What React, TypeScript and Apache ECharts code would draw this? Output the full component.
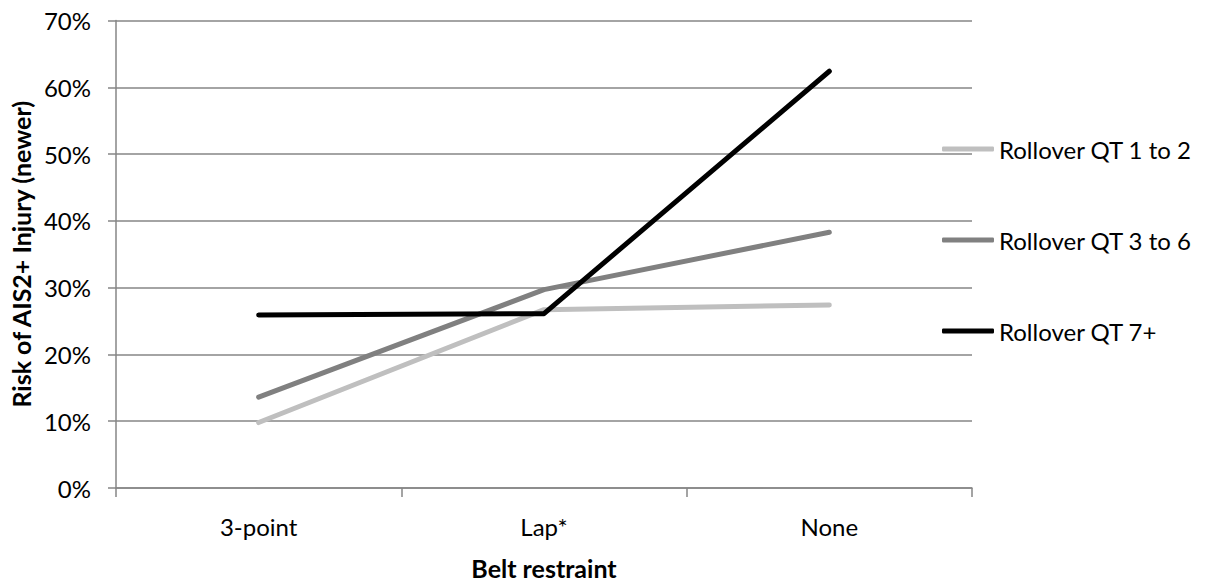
import React, { useEffect, useRef } from "react";
import * as echarts from "echarts";

const categories = ["3-point", "Lap*", "None"];
const seriesNames = ["Rollover QT 1 to 2", "Rollover QT 3 to 6", "Rollover QT 7+"];
const qt1to2 = [9.8, 26.7, 27.4];
const qt3to6 = [13.6, 29.7, 38.3];
const qt7plus = [25.9, 26.1, 62.4];
const seriesColors = ["#bfbfbf", "#808080", "#000000"];

const FONT = "Lato";

export default function App() {
  const ref = useRef<HTMLDivElement>(null);
  useEffect(() => {
    if (!ref.current) return;
    const chart = echarts.init(ref.current, undefined, { renderer: "svg" });
    const data = [qt1to2, qt3to6, qt7plus];
    chart.setOption({
      animation: false,
      backgroundColor: "#ffffff",
      textStyle: { fontFamily: FONT },
      grid: { left: 115.5, right: 233, top: 20.5, bottom: 89 },
      legend: {
        orient: "vertical",
        left: 937,
        top: 132,
        itemGap: 67,
        itemWidth: 52,
        itemHeight: 5,
        icon: "roundRect",
        textStyle: { fontFamily: FONT, fontSize: 24, color: "#000" },
        data: seriesNames,
      },
      xAxis: {
        type: "category",
        data: categories,
        boundaryGap: true,
        name: "Belt restraint",
        nameLocation: "middle",
        nameGap: 67,
        nameTextStyle: { fontFamily: FONT, fontSize: 25, fontWeight: "bold", color: "#000" },
        axisLine: { lineStyle: { color: "#868686", width: 1.5 } },
        axisTick: { show: true, length: 9, lineStyle: { color: "#868686", width: 1.5 } },
        axisLabel: { fontFamily: FONT, fontSize: 24, color: "#000", margin: 26 },
      },
      yAxis: {
        type: "value",
        min: 0,
        max: 70,
        interval: 10,
        name: "Risk of AIS2+ Injury (newer)",
        nameLocation: "middle",
        nameGap: 80,
        nameTextStyle: { fontFamily: FONT, fontSize: 25, fontWeight: "bold", color: "#000" },
        axisLine: { show: true, lineStyle: { color: "#868686", width: 1.5 } },
        axisTick: { show: true, length: 8, lineStyle: { color: "#868686", width: 1.5 } },
        axisLabel: { fontFamily: FONT, fontSize: 24, color: "#000", margin: 25, formatter: "{value}%" },
        splitLine: { lineStyle: { color: "#868686", width: 1.5 } },
      },
      series: data.map((d, i) => ({
        name: seriesNames[i],
        type: "line",
        data: d,
        symbol: "none",
        color: seriesColors[i],
        lineStyle: { color: seriesColors[i], width: 5, cap: "round", join: "round" },
      })),
    });
    return () => chart.dispose();
  }, []);
  return <div ref={ref} style={{ position: "fixed", left: 0, top: 0, width: 1205, height: 585 }} />;
}
